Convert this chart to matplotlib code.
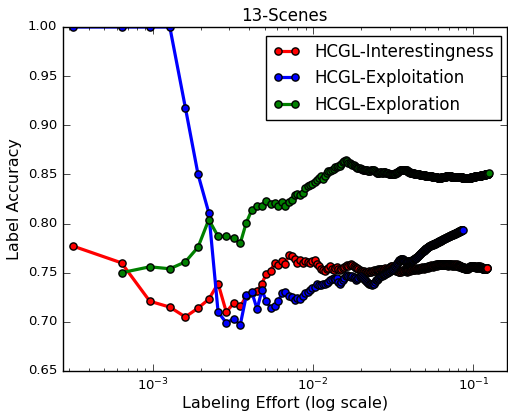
import numpy as np
import matplotlib
matplotlib.use("Agg")
import matplotlib.pyplot as plt
from matplotlib.ticker import FormatStrFormatter

# Size of the 13-Scenes query pool; labeling effort = queried samples / pool size
POOL_SIZE = 3125

series_names = ["HCGL-Interestingness", "HCGL-Exploitation", "HCGL-Exploration"]
series_colors = ["r", "b", "g"]

# Label accuracy (per-mille) after each query step
interest_first_step = 1
interest_acc = [
    777, 760, 721, 715, 705, 714, 723, 739, 710, 719,   # 1-10
    716, 726, 729, 731, 739, 749, 752, 760, 758, 762,   # 11-20
    759, 768, 767, 764, 760, 763, 760, 762, 761, 760,   # 21-30
    762, 763, 759, 757, 754, 753, 752, 754, 755, 757,   # 31-40
    754, 753, 755, 756, 754, 753, 754, 755, 756, 757,   # 41-50
    758, 757, 758, 759, 758, 757, 756, 755, 755, 754,   # 51-60
    753, 752, 752, 751, 752, 751, 751, 750, 751, 752,   # 61-70
    751, 751, 752, 752, 753, 752, 753, 753, 754, 753,   # 71-80
    753, 754, 754, 754, 753, 753, 754, 755, 754, 753,   # 81-90
    753, 754, 755, 756, 756, 757, 757, 756, 755, 754,   # 91-100
    754, 753, 752, 752, 753, 752, 751, 751, 752, 752,   # 101-110
    751, 752, 753, 753, 752, 752, 753, 753, 752, 751,   # 111-120
    752, 752, 753, 753, 753, 752, 753, 753, 754, 754,   # 121-130
    753, 753, 754, 754, 753, 754, 754, 755, 754, 754,   # 131-140
    753, 754, 754, 755, 755, 754, 754, 755, 755, 756,   # 141-150
    755, 755, 754, 755, 755, 756, 756, 755, 756, 756,   # 151-160
    756, 755, 756, 757, 757, 756, 756, 757, 757, 757,   # 161-170
    758, 757, 757, 756, 757, 757, 758, 758, 757, 758,   # 171-180
    758, 759, 758, 758, 757, 758, 758, 759, 759, 758,   # 181-190
    758, 759, 759, 758, 759, 759, 758, 758, 759, 759,   # 191-200
    758, 758, 759, 759, 758, 759, 759, 758, 758, 759,   # 201-210
    759, 758, 758, 759, 758, 758, 757, 758, 758, 759,   # 211-220
    759, 758, 758, 758, 759, 759, 758, 758, 757, 758,   # 221-230
    758, 758, 759, 758, 758, 758, 757, 758, 758, 758,   # 231-240
    759, 758, 758, 757, 758, 758, 758, 759, 758, 758,   # 241-250
    757, 757, 758, 757, 757, 756, 757, 757, 757, 756,   # 251-260
    756, 756, 757, 756, 756, 755, 756, 756, 755, 755,   # 261-270
    755, 756, 755, 755, 755, 754, 755, 755, 755, 754,   # 271-280
    754, 755, 755, 754, 755, 755, 755, 754, 755, 755,   # 281-290
    755, 756, 756, 755, 756, 756, 756, 757, 756, 756,   # 291-300
    756, 757, 757, 756, 757, 757, 756, 757, 757, 756,   # 301-310
    757, 757, 756, 757, 756, 756, 756, 757, 756, 756,   # 311-320
    756, 756, 755, 756, 756, 756, 755, 756, 756, 756,   # 321-330
    756, 757, 756, 756, 756, 757, 756, 756, 756, 755,   # 331-340
    756, 756, 756, 757, 756, 756, 756, 755, 756, 756,   # 341-350
    755, 755, 756, 755, 755, 755, 754, 755, 755, 754,   # 351-360
    754, 755, 755, 754, 754, 755, 755, 754, 754, 755,   # 361-370
    755, 755, 754, 754, 755, 755, 754, 755, 755, 755,   # 371-380
]

exploit_first_step = 1
exploit_acc = [
    1000, 1000, 1000, 1000, 918, 850, 811, 710, 699, 703,  # 1-10
    697, 727, 730, 713, 732, 721, 714, 716, 721, 729,   # 11-20
    730, 726, 725, 722, 724, 723, 726, 729, 730, 732,   # 21-30
    734, 735, 738, 737, 737, 738, 739, 740, 741, 743,   # 31-40
    744, 745, 744, 745, 741, 739, 741, 743, 745, 747,   # 41-50
    748, 747, 747, 746, 747, 746, 745, 743, 744, 745,   # 51-60
    746, 747, 746, 745, 744, 743, 742, 741, 740, 739,   # 61-70
    738, 738, 737, 738, 739, 741, 743, 743, 744, 745,   # 71-80
    746, 747, 747, 747, 748, 748, 749, 749, 750, 750,   # 81-90
    750, 751, 751, 752, 752, 753, 753, 754, 754, 755,   # 91-100
    756, 757, 758, 759, 760, 761, 762, 763, 763, 764,   # 101-110
    764, 764, 764, 763, 763, 762, 762, 761, 761, 761,   # 111-120
    761, 761, 762, 762, 762, 762, 762, 762, 762, 763,   # 121-130
    763, 763, 764, 764, 764, 765, 765, 765, 766, 766,   # 131-140
    767, 767, 768, 768, 769, 769, 770, 770, 771, 771,   # 141-150
    772, 772, 772, 773, 773, 774, 774, 774, 775, 775,   # 151-160
    775, 776, 776, 776, 777, 777, 777, 777, 778, 778,   # 161-170
    778, 778, 778, 778, 779, 779, 779, 779, 779, 779,   # 171-180
    780, 780, 780, 780, 780, 781, 781, 781, 781, 781,   # 181-190
    782, 782, 782, 782, 782, 783, 783, 783, 783, 783,   # 191-200
    784, 784, 784, 784, 784, 784, 785, 785, 785, 785,   # 201-210
    785, 785, 786, 786, 786, 786, 786, 786, 787, 787,   # 211-220
    787, 787, 787, 787, 787, 788, 788, 788, 788, 788,   # 221-230
    788, 788, 789, 789, 789, 789, 789, 789, 789, 789,   # 231-240
    790, 790, 790, 790, 790, 790, 790, 791, 791, 791,   # 241-250
    791, 791, 791, 791, 792, 792, 792, 792, 792, 792,   # 251-260
    792, 793, 793, 793, 793, 793, 793, 793,             # 261-268
]

explore_first_step = 2
explore_acc = [
    750, 756, 754, 761, 776, 804, 787, 787, 785, 780,   # 2-11
    801, 814, 818, 818, 823, 820, 821, 818, 822, 818,   # 12-21
    822, 824, 829, 830, 829, 831, 836, 838, 839, 840,   # 22-31
    842, 844, 846, 848, 845, 848, 851, 853, 853, 855,   # 32-41
    856, 858, 858, 859, 859, 861, 863, 864, 865, 864,   # 42-51
    862, 862, 861, 860, 860, 859, 858, 857, 857, 857,   # 52-61
    856, 856, 855, 855, 855, 854, 854, 853, 853, 853,   # 62-71
    854, 854, 854, 854, 853, 852, 851, 851, 851, 851,   # 72-81
    852, 852, 851, 851, 852, 852, 852, 851, 851, 851,   # 82-91
    851, 850, 850, 850, 850, 850, 850, 850, 850, 851,   # 92-101
    850, 851, 851, 852, 852, 853, 853, 854, 854, 855,   # 102-111
    855, 855, 855, 855, 855, 855, 855, 854, 854, 853,   # 112-121
    853, 852, 852, 852, 851, 851, 851, 851, 851, 851,   # 122-131
    851, 851, 850, 850, 850, 850, 850, 850, 850, 850,   # 132-141
    850, 850, 850, 849, 849, 849, 849, 849, 849, 849,   # 142-151
    849, 849, 849, 849, 849, 848, 848, 848, 848, 848,   # 152-161
    848, 848, 848, 848, 848, 848, 848, 848, 848, 848,   # 162-171
    848, 847, 847, 847, 847, 847, 847, 847, 847, 847,   # 172-181
    847, 847, 847, 847, 847, 846, 846, 846, 846, 846,   # 182-191
    846, 846, 846, 846, 846, 847, 847, 847, 847, 847,   # 192-201
    847, 847, 847, 847, 847, 847, 847, 847, 847, 848,   # 202-211
    848, 848, 848, 848, 848, 848, 848, 848, 848, 848,   # 212-221
    848, 848, 848, 848, 848, 848, 847, 847, 847, 847,   # 222-231
    847, 847, 847, 847, 847, 847, 847, 847, 847, 847,   # 232-241
    847, 847, 847, 847, 847, 847, 847, 847, 847, 847,   # 242-251
    847, 847, 847, 847, 847, 847, 847, 847, 847, 847,   # 252-261
    847, 847, 847, 847, 847, 846, 846, 846, 846, 846,   # 262-271
    846, 846, 846, 846, 846, 846, 846, 846, 846, 846,   # 272-281
    846, 846, 846, 846, 846, 846, 846, 846, 846, 846,   # 282-291
    846, 846, 846, 846, 846, 846, 846, 846, 846, 846,   # 292-301
    847, 847, 847, 847, 847, 847, 847, 847, 847, 847,   # 302-311
    847, 847, 847, 847, 847, 847, 847, 847, 848, 848,   # 312-321
    848, 848, 848, 848, 848, 848, 848, 848, 848, 848,   # 322-331
    848, 848, 848, 848, 848, 848, 848, 848, 848, 848,   # 332-341
    848, 848, 848, 848, 848, 848, 848, 849, 849, 849,   # 342-351
    849, 849, 849, 849, 849, 849, 849, 849, 849, 849,   # 352-361
    849, 849, 849, 849, 849, 849, 849, 849, 849, 850,   # 362-371
    850, 850, 850, 850, 850, 850, 850, 850, 850, 850,   # 372-381
    850, 850, 850, 850, 850, 850, 850, 851,             # 382-389
]

first_steps = [interest_first_step, exploit_first_step, explore_first_step]
accuracies = [interest_acc, exploit_acc, explore_acc]

plt.style.use("classic")
plt.rcParams["font.family"] = ["DejaVu Sans"]

fig = plt.figure(figsize=(5.08, 4.16), dpi=100, facecolor="white")
ax = fig.add_axes([0.1234, 0.1082, 0.8746, 0.8269])

for name, color, start, acc in zip(series_names, series_colors, first_steps, accuracies):
    steps = np.arange(start, start + len(acc))
    effort = steps / POOL_SIZE
    ax.plot(effort, np.asarray(acc) / 1000.0, color=color, linestyle="-",
            linewidth=2.3, marker="o", markersize=5.2, markerfacecolor=color,
            markeredgecolor="k", markeredgewidth=1.0, label=name)

ax.set_xscale("log")
ax.set_xlim(2.75e-4, 0.162)
ax.set_ylim(0.65, 1.00)
ax.set_yticks(np.arange(0.65, 1.001, 0.05))
ax.yaxis.set_major_formatter(FormatStrFormatter("%.2f"))

ax.tick_params(which="both", direction="in", top=True, right=True, labelsize=9.5)
ax.tick_params(which="major", length=5)
ax.tick_params(which="minor", length=2.5)

ax.set_title("13-Scenes", fontsize=12, pad=4)
ax.set_xlabel("Labeling Effort (log scale)", fontsize=11.5, labelpad=2)
ax.set_ylabel("Label Accuracy", fontsize=11.5, labelpad=4)

leg = ax.legend(loc="upper right", bbox_to_anchor=(0.9865, 0.973), borderaxespad=0,
                numpoints=2, fontsize=12, handlelength=1.6, handletextpad=0.9,
                fancybox=False, frameon=True, labelspacing=0.5, borderpad=0.4)
leg.get_frame().set_edgecolor("k")
leg.get_frame().set_linewidth(1.0)

fig.savefig("out.png", dpi=100, facecolor="white")
